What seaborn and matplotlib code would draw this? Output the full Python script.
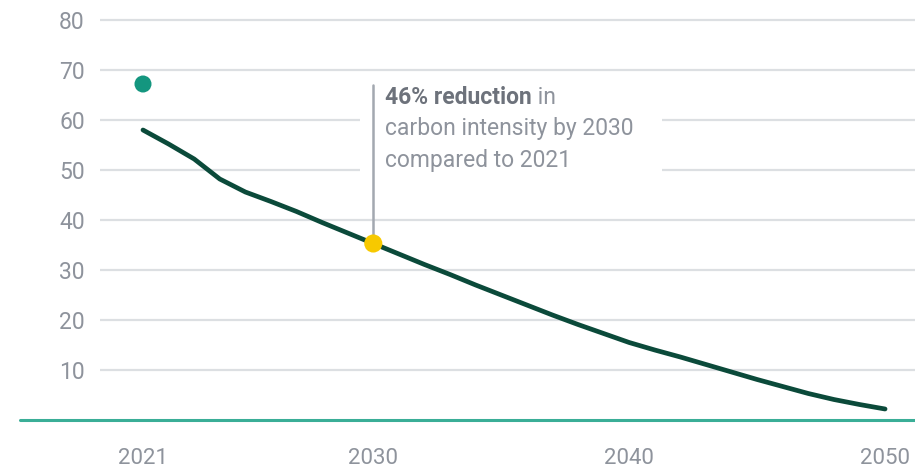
import matplotlib
matplotlib.use("agg")
import matplotlib.pyplot as plt
from matplotlib.patches import Rectangle
import pandas as pd
import seaborn as sns

# pathway values
years = list(range(2021, 2051))
intensity = [58.0, 55.2, 52.2, 48.2, 45.6, 43.7, 41.7, 39.5, 37.4, 35.3,
             33.2, 31.1, 29.1, 27.0, 25.0, 23.0, 21.0, 19.1, 17.3, 15.5,
             14.0, 12.6, 11.1, 9.6, 8.1, 6.7, 5.3, 4.1, 3.1, 2.2]
actual_year, actual_value = [2021], [67.2]
target_year, target_value = [2030], [35.3]
x_ticks = [2021, 2030, 2040, 2050]
y_ticks = [10, 20, 30, 40, 50, 60, 70, 80]
note_bold = "46% reduction"
note_rest = " in"
note_line2 = "carbon intensity by 2030"
note_line3 = "compared to 2021"

line_color = "#0b4a3a"
teal = "#14967f"
base_teal = "#3aae97"
yellow = "#f7c900"
grid_color = "#dcdfe2"
text_color = "#8e939c"
bold_color = "#6d727b"

sns.set_style("white")
plt.rcParams["font.family"] = ["Roboto", "DejaVu Sans"]

fig = plt.figure(figsize=(9.15, 4.73), dpi=100)
ax = fig.add_axes([100 / 915, 53 / 473, 815 / 915, 420 / 473])

df = pd.DataFrame({"year": years, "intensity": intensity})
sns.lineplot(data=df, x="year", y="intensity", color=line_color, lw=3.4, ax=ax, zorder=4)

# grid lines (no line at zero, teal baseline instead)
for y in y_ticks:
    ax.axhline(y, color=grid_color, lw=1.6, zorder=1)
ax.axhline(0, xmin=-80 / 815, xmax=1, color=base_teal, lw=2.2, clip_on=False, zorder=3)

# white box behind annotation
ax.add_patch(Rectangle((2029.47, 47.5), 11.8, 20.3, facecolor="white", edgecolor="none", zorder=2))
ax.plot([2030, 2030], [target_value[0], 67.0], color="#a3a8b0", lw=1.8, zorder=3)

sns.scatterplot(x=actual_year, y=actual_value, color=teal, s=150, edgecolor="none", ax=ax, zorder=5)
sns.scatterplot(x=target_year, y=target_value, color=yellow, s=170, edgecolor="none", ax=ax, zorder=5)

t1 = ax.text(2030.45, 64.6, note_bold, fontsize=16.5, fontweight="bold", color=bold_color,
             va="center", ha="left", zorder=6)
ax.annotate(note_rest, xy=(1, 0), xycoords=t1, fontsize=16.5, color=text_color,
            va="bottom", ha="left", zorder=6)
ax.text(2030.45, 58.4, note_line2, fontsize=16.5, color=text_color, va="center", ha="left", zorder=6)
ax.text(2030.45, 52.0, note_line3, fontsize=16.5, color=text_color, va="center", ha="left", zorder=6)

ax.set_xlim(2019.32, 2051.17)
ax.set_ylim(0, 84)
ax.set_xticks(x_ticks)
ax.set_yticks(y_ticks)
ax.set_xlabel("")
ax.set_ylabel("")
ax.tick_params(axis="y", length=0, pad=11, labelsize=16.5, labelcolor=text_color)
ax.tick_params(axis="x", length=14, width=1.5, color="#b5b9bf", pad=6, labelsize=16,
               labelcolor=text_color, direction="out")
sns.despine(ax=ax, left=True, bottom=True, top=True, right=True)

fig.savefig("out.png", dpi=100)
